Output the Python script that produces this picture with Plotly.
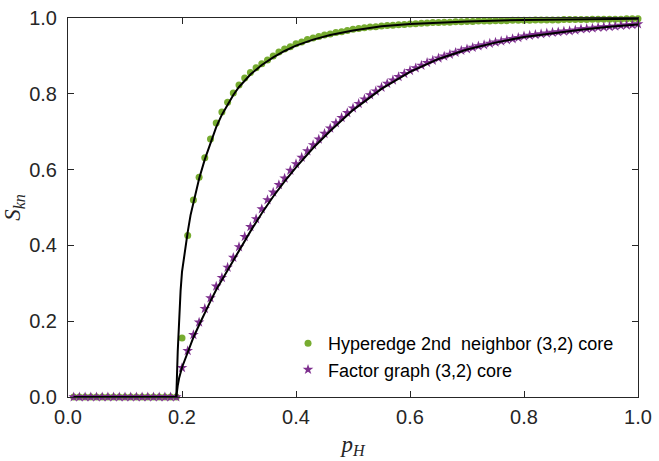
import plotly.graph_objects as go

# Occupation probability grid for the simulated points
p_sim = [round(0.01 * k, 2) for k in range(1, 101)]

# Simulation: hyperedge 2nd neighbor (3,2) core
s_hyper = [0.0] * 19 + [
    0.156, 0.426, 0.520, 0.580, 0.631, 0.681, 0.723, 0.752, 0.778, 0.802,
    0.823, 0.842, 0.856, 0.869, 0.879, 0.889, 0.900, 0.910, 0.918, 0.924,
    0.932, 0.937, 0.943, 0.947, 0.951, 0.955, 0.958, 0.962, 0.964, 0.967,
    0.970, 0.972, 0.974, 0.976, 0.977, 0.979, 0.980, 0.981, 0.982, 0.983,
    0.984, 0.985, 0.986, 0.987, 0.988, 0.988, 0.989, 0.989, 0.990, 0.990,
    0.991, 0.991, 0.992, 0.992, 0.992, 0.993, 0.993, 0.993, 0.994, 0.994,
    0.994, 0.994, 0.995, 0.995, 0.995, 0.995, 0.995, 0.996, 0.996, 0.996,
    0.996, 0.996, 0.997, 0.997, 0.997, 0.997, 0.997, 0.997, 0.998, 0.998,
    0.998,
]

# Simulation: factor graph (3,2) core
s_factor = [0.0] * 19 + [
    0.077, 0.122, 0.164, 0.197, 0.233, 0.261, 0.292, 0.315, 0.342, 0.368,
    0.396, 0.423, 0.449, 0.470, 0.496, 0.520, 0.540, 0.560, 0.577, 0.598,
    0.615, 0.632, 0.649, 0.665, 0.680, 0.695, 0.709, 0.723, 0.737, 0.750,
    0.762, 0.774, 0.786, 0.797, 0.807, 0.817, 0.827, 0.836, 0.845, 0.853,
    0.861, 0.868, 0.875, 0.882, 0.888, 0.894, 0.899, 0.904, 0.909, 0.914,
    0.918, 0.922, 0.926, 0.929, 0.933, 0.936, 0.939, 0.942, 0.945, 0.948,
    0.952, 0.954, 0.956, 0.958, 0.960, 0.962, 0.963, 0.965, 0.966, 0.968,
    0.971, 0.972, 0.973, 0.975, 0.976, 0.977, 0.978, 0.980, 0.981, 0.982,
    0.984,
]

# Theory curves
p_th_hyper = [0.01, 0.19, 0.1925, 0.195, 0.1975, 0.20, 0.205, 0.21, 0.215,
              0.22, 0.23, 0.24, 0.25, 0.26, 0.27, 0.28, 0.29, 0.30, 0.32,
              0.34, 0.36, 0.38, 0.40, 0.43, 0.46, 0.50, 0.55, 0.60, 0.65,
              0.70, 0.80, 0.90, 1.00]
s_th_hyper = [0.0, 0.0, 0.12, 0.21, 0.28, 0.33, 0.39, 0.435, 0.48,
              0.515, 0.576, 0.627, 0.672, 0.712, 0.745, 0.773, 0.797, 0.818, 0.851,
              0.876, 0.896, 0.913, 0.927, 0.943, 0.955, 0.967, 0.978, 0.984, 0.988,
              0.991, 0.995, 0.997, 0.998]

p_th_factor = [0.01, 0.19, 0.1925, 0.195, 0.20, 0.21, 0.22, 0.23, 0.24, 0.25,
               0.26, 0.27, 0.28, 0.29, 0.30, 0.32, 0.34, 0.36, 0.38, 0.40,
               0.43, 0.46, 0.50, 0.55, 0.60, 0.65, 0.70, 0.75, 0.80, 0.85,
               0.90, 0.95, 1.00]
s_th_factor = [0.0, 0.0, 0.03, 0.05, 0.078, 0.12, 0.157, 0.19, 0.223, 0.253,
               0.283, 0.309, 0.335, 0.361, 0.387, 0.437, 0.485, 0.529, 0.569, 0.606,
               0.657, 0.702, 0.757, 0.813, 0.858, 0.892, 0.917, 0.935, 0.950, 0.960,
               0.969, 0.977, 0.983]

tick_vals = [0.0, 0.2, 0.4, 0.6, 0.8, 1.0]

GREEN = "#77AC30"
PURPLE = "#7E2F8E"
AXIS = "#262626"
SANS = "Liberation Sans, Arial, Helvetica, sans-serif"
SERIF = "Liberation Serif, Times New Roman, serif"

fig = go.Figure()
fig.add_trace(go.Scatter(
    x=p_sim, y=s_hyper, mode="markers", name="Hyperedge 2nd  neighbor (3,2) core",
    marker=dict(symbol="circle", size=7, color=GREEN, line=dict(width=0)),
    cliponaxis=False,
))
fig.add_trace(go.Scatter(
    x=p_sim, y=s_factor, mode="markers", name="Factor graph (3,2) core",
    marker=dict(symbol="star", size=8, color=PURPLE, line=dict(width=0)),
    cliponaxis=False,
))
for px, sy in [(p_th_hyper, s_th_hyper), (p_th_factor, s_th_factor)]:
    fig.add_trace(go.Scatter(
        x=px, y=sy, mode="lines", line=dict(color="black", width=2),
        showlegend=False, hoverinfo="skip", cliponaxis=False,
    ))

axis_common = dict(
    range=[0, 1], tickvals=tick_vals, tickformat=".1f",
    ticks="inside", ticklen=6, tickwidth=1, tickcolor=AXIS,
    showline=True, linecolor=AXIS, linewidth=1, mirror="ticks",
    showgrid=False, zeroline=False, ticklabeloverflow="allow",
    tickfont=dict(family=SANS, size=20, color=AXIS),
)

fig.update_xaxes(
    **axis_common, ticklabelstandoff=2,
    title=dict(text="<i>p</i><sub><i>H</i></sub>",
               font=dict(family=SERIF, size=23, color=AXIS), standoff=8),
)
fig.update_yaxes(
    **axis_common, ticklabelstandoff=6,
    title=dict(text="<i>S</i><sub><i>kn</i></sub>",
               font=dict(family=SERIF, size=23, color=AXIS), standoff=4),
)

fig.update_layout(
    width=659, height=461,
    margin=dict(l=68, r=15, t=7, b=64),
    paper_bgcolor="white", plot_bgcolor="white",
    showlegend=True,
    legend=dict(
        x=0.386, y=0.19, xanchor="left", yanchor="top",
        bgcolor="rgba(0,0,0,0)", borderwidth=0,
        font=dict(family=SANS, size=18, color="black"),
        itemwidth=30, tracegroupgap=0,
    ),
)

fig.write_html("out.html")
